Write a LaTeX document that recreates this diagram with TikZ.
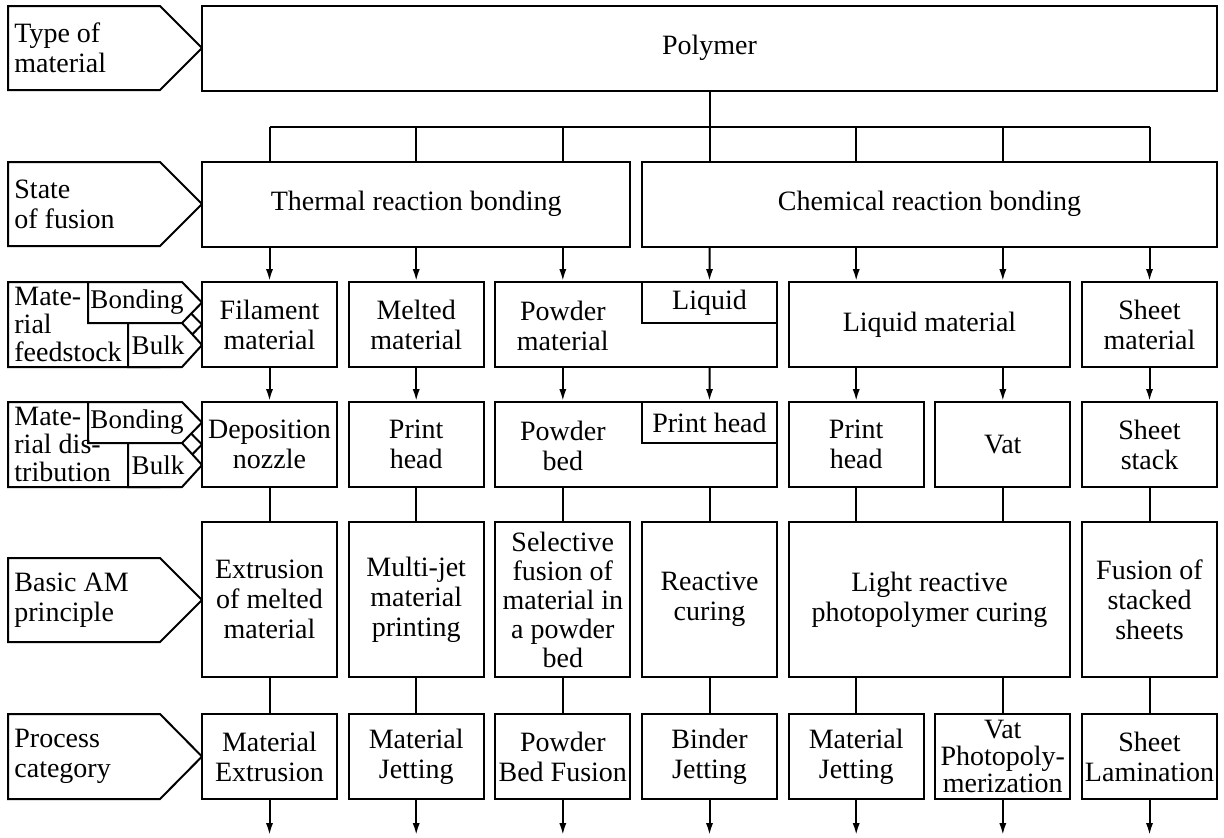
\documentclass[tikz,border=0pt]{standalone}
\usepackage{fontspec}
\setmainfont{Liberation Serif}
\usetikzlibrary{arrows.meta,positioning}

\begin{document}
\begin{tikzpicture}
    [x=0.5pt,y=-0.5pt,
    every node/.style={font=\fontsize{14}{15}\selectfont},
    box/.style={draw,fill=white,line width=1pt,align=center,inner sep=0.5pt,minimum width=67.5pt,minimum height=42.5pt},
    widebox/.style={box,minimum width=140.8pt},
    tallbox/.style={box,minimum height=77.5pt},
    inset/.style={box,minimum height=20.5pt,anchor=north east},
    rowlabel/.style={align=left,anchor=west,inner sep=0pt},
    tag/.style={draw,fill=white,line width=1pt},
    tagtext/.style={inner sep=0pt,font=\fontsize{13.5}{15}\selectfont},
    wire/.style={line width=1pt},
    arr/.style={wire,-{Latex[length=6pt,width=3.6pt]}}]

    \useasboundingbox (0,0) rectangle (1224,837);

    % column axes and bus
    \coordinate (c0) at (269.5,0);
    \coordinate (c1) at (416.2,0);
    \coordinate (c2) at (562.8,0);
    \coordinate (c3) at (709.5,0);
    \coordinate (c4) at (856.2,0);
    \coordinate (c5) at (1002.8,0);
    \coordinate (c6) at (1149.5,0);
    \coordinate (bus) at (0,127);
    \coordinate (out) at (0,835);

    % row labels
    \draw[tag] (8,6) -- (160,6) -- (202,48) -- (160,90) -- (8,90) -- cycle;
    \node[rowlabel] (typeLbl) at (14,48) {Type of\\material};
    \draw[tag] (8,162) -- (160,162) -- (202,204) -- (160,246) -- (8,246) -- cycle;
    \node[rowlabel] (stateLbl) at (14,204) {State\\of fusion};

    \draw[tag] (8,282) -- (160,282) -- (202,324.5) -- (160,367) -- (8,367) -- cycle;
    \draw[tag] (88,282) -- (182,282) -- (202,302.5) -- (182,323) -- (88,323) -- cycle;
    \draw[tag] (128,323) -- (182,323) -- (202,345) -- (182,367) -- (128,367) -- cycle;
    \node[rowlabel,font=\fontsize{14}{14}\selectfont] (feedLbl) at (14,324.5) {Mate-\\rial\\feedstock};
    \node[tagtext] (feedBonding) at (137,302.5) {Bonding};
    \node[tagtext] (feedBulk) at (158,345) {Bulk};

    \draw[tag] (8,402) -- (160,402) -- (202,444.5) -- (160,487) -- (8,487) -- cycle;
    \draw[tag] (88,402) -- (182,402) -- (202,422.5) -- (182,443) -- (88,443) -- cycle;
    \draw[tag] (128,443) -- (182,443) -- (202,465) -- (182,487) -- (128,487) -- cycle;
    \node[rowlabel,font=\fontsize{14}{14}\selectfont] (distLbl) at (14,444.5) {Mate-\\rial dis-\\tribution};
    \node[tagtext] (distBonding) at (137,422.5) {Bonding};
    \node[tagtext] (distBulk) at (158,465) {Bulk};

    \draw[tag] (8,558) -- (160,558) -- (202,600) -- (160,642) -- (8,642) -- cycle;
    \node[rowlabel] (principleLbl) at (14,600) {Basic AM\\principle};
    \draw[tag] (8,714) -- (160,714) -- (202,756.5) -- (160,799) -- (8,799) -- cycle;
    \node[rowlabel] (categoryLbl) at (14,756.5) {Process\\category};

    % material and fusion
    \node[box,minimum width=507.5pt] (polymer) at (709.5,48) {Polymer};
    \node[box,minimum width=214.2pt] (thermal) at (416.2,204) {Thermal reaction bonding};
    \node[box,minimum width=287.5pt] (chemical) at (929.5,204) {Chemical reaction bonding};

    % feedstock
    \node[box] (filament) at (269.5,324.5) {Filament\\material};
    \node[box] (melted) at (416.2,324.5) {Melted\\material};
    \node[widebox] (powder) at (636.2,324.5) {};
    \node[inset] (liquid) at (powder.north east) {Liquid};
    \node[align=center] (powderTxt) at (562.8,326) {Powder\\material};
    \node[widebox] (liquidMat) at (929.5,324.5) {Liquid material};
    \node[box] (sheet) at (1149.5,324.5) {Sheet\\material};

    % distribution
    \node[box] (nozzle) at (269.5,444.5) {Deposition\\nozzle};
    \node[box] (headA) at (416.2,444.5) {Print\\head};
    \node[widebox] (bed) at (636.2,444.5) {};
    \node[inset] (headB) at (bed.north east) {Print head};
    \node[align=center] (bedTxt) at (562.8,446) {Powder\\bed};
    \node[box] (headC) at (856.2,444.5) {Print\\head};
    \node[box] (vat) at (1002.8,444.5) {Vat};
    \node[box] (stack) at (1149.5,444.5) {Sheet\\stack};

    % principle
    \node[tallbox] (extrusion) at (269.5,599.5) {Extrusion\\of melted\\material};
    \node[tallbox] (multijet) at (416.2,599.5) {Multi-jet\\material\\printing};
    \node[tallbox,font=\fontsize{14}{14.5}\selectfont] (selective) at (562.8,599.5) {Selective\\fusion of\\material in\\a powder\\bed};
    \node[tallbox] (reactive) at (709.5,599.5) {Reactive\\curing};
    \node[tallbox,minimum width=140.8pt] (light) at (929.5,599.5) {Light reactive\\photopolymer curing};
    \node[tallbox] (fusion) at (1149.5,599.5) {Fusion of\\stacked\\sheets};

    % category
    \node[box] (mex) at (269.5,756.5) {Material\\Extrusion};
    \node[box] (mjA) at (416.2,756.5) {Material\\Jetting};
    \node[box] (pbf) at (562.8,756.5) {Powder\\Bed Fusion};
    \node[box] (bjt) at (709.5,756.5) {Binder\\Jetting};
    \node[box] (mjB) at (856.2,756.5) {Material\\Jetting};
    \node[box,font=\fontsize{14}{13.5}\selectfont] (vpp) at (1002.8,756.5) {Vat\\Photopoly-\\merization};
    \node[box] (shl) at (1149.5,756.5) {Sheet\\Lamination};

    % polymer to bus
    \draw[wire] (polymer.south) -- (polymer.south |- bus);
    \draw[wire] (c0 |- bus) -- (c6 |- bus);
    \draw[wire] (c0 |- bus) -- (c0 |- thermal.north);
    \draw[wire] (c1 |- bus) -- (c1 |- thermal.north);
    \draw[wire] (c2 |- bus) -- (c2 |- thermal.north);
    \draw[wire] (c3 |- bus) -- (c3 |- chemical.north);
    \draw[wire] (c4 |- bus) -- (c4 |- chemical.north);
    \draw[wire] (c5 |- bus) -- (c5 |- chemical.north);
    \draw[wire] (c6 |- bus) -- (c6 |- chemical.north);

    % fusion to feedstock
    \draw[arr] (c0 |- thermal.south) -- (filament.north);
    \draw[arr] (c1 |- thermal.south) -- (melted.north);
    \draw[arr] (c2 |- thermal.south) -- (c2 |- powder.north);
    \draw[arr] (c3 |- chemical.south) -- (liquid.north);
    \draw[arr] (c4 |- chemical.south) -- (c4 |- liquidMat.north);
    \draw[arr] (c5 |- chemical.south) -- (c5 |- liquidMat.north);
    \draw[arr] (c6 |- chemical.south) -- (sheet.north);

    % feedstock to distribution
    \draw[arr] (filament.south) -- (nozzle.north);
    \draw[arr] (melted.south) -- (headA.north);
    \draw[arr] (c2 |- powder.south) -- (c2 |- bed.north);
    \draw[arr] (c3 |- powder.south) -- (headB.north);
    \draw[arr] (c4 |- liquidMat.south) -- (headC.north);
    \draw[arr] (c5 |- liquidMat.south) -- (vat.north);
    \draw[arr] (sheet.south) -- (stack.north);

    % distribution to principle
    \draw[wire] (nozzle.south) -- (extrusion.north);
    \draw[wire] (headA.south) -- (multijet.north);
    \draw[wire] (c2 |- bed.south) -- (selective.north);
    \draw[wire] (c3 |- bed.south) -- (reactive.north);
    \draw[wire] (headC.south) -- (c4 |- light.north);
    \draw[wire] (vat.south) -- (c5 |- light.north);
    \draw[wire] (stack.south) -- (fusion.north);

    % principle to category
    \draw[wire] (extrusion.south) -- (mex.north);
    \draw[wire] (multijet.south) -- (mjA.north);
    \draw[wire] (selective.south) -- (pbf.north);
    \draw[wire] (reactive.south) -- (bjt.north);
    \draw[wire] (c4 |- light.south) -- (mjB.north);
    \draw[wire] (c5 |- light.south) -- (vpp.north);
    \draw[wire] (fusion.south) -- (shl.north);

    % outputs
    \draw[arr] (mex.south) -- (mex.south |- out);
    \draw[arr] (mjA.south) -- (mjA.south |- out);
    \draw[arr] (pbf.south) -- (pbf.south |- out);
    \draw[arr] (bjt.south) -- (bjt.south |- out);
    \draw[arr] (mjB.south) -- (mjB.south |- out);
    \draw[arr] (vpp.south) -- (vpp.south |- out);
    \draw[arr] (shl.south) -- (shl.south |- out);
\end{tikzpicture}
\end{document}
